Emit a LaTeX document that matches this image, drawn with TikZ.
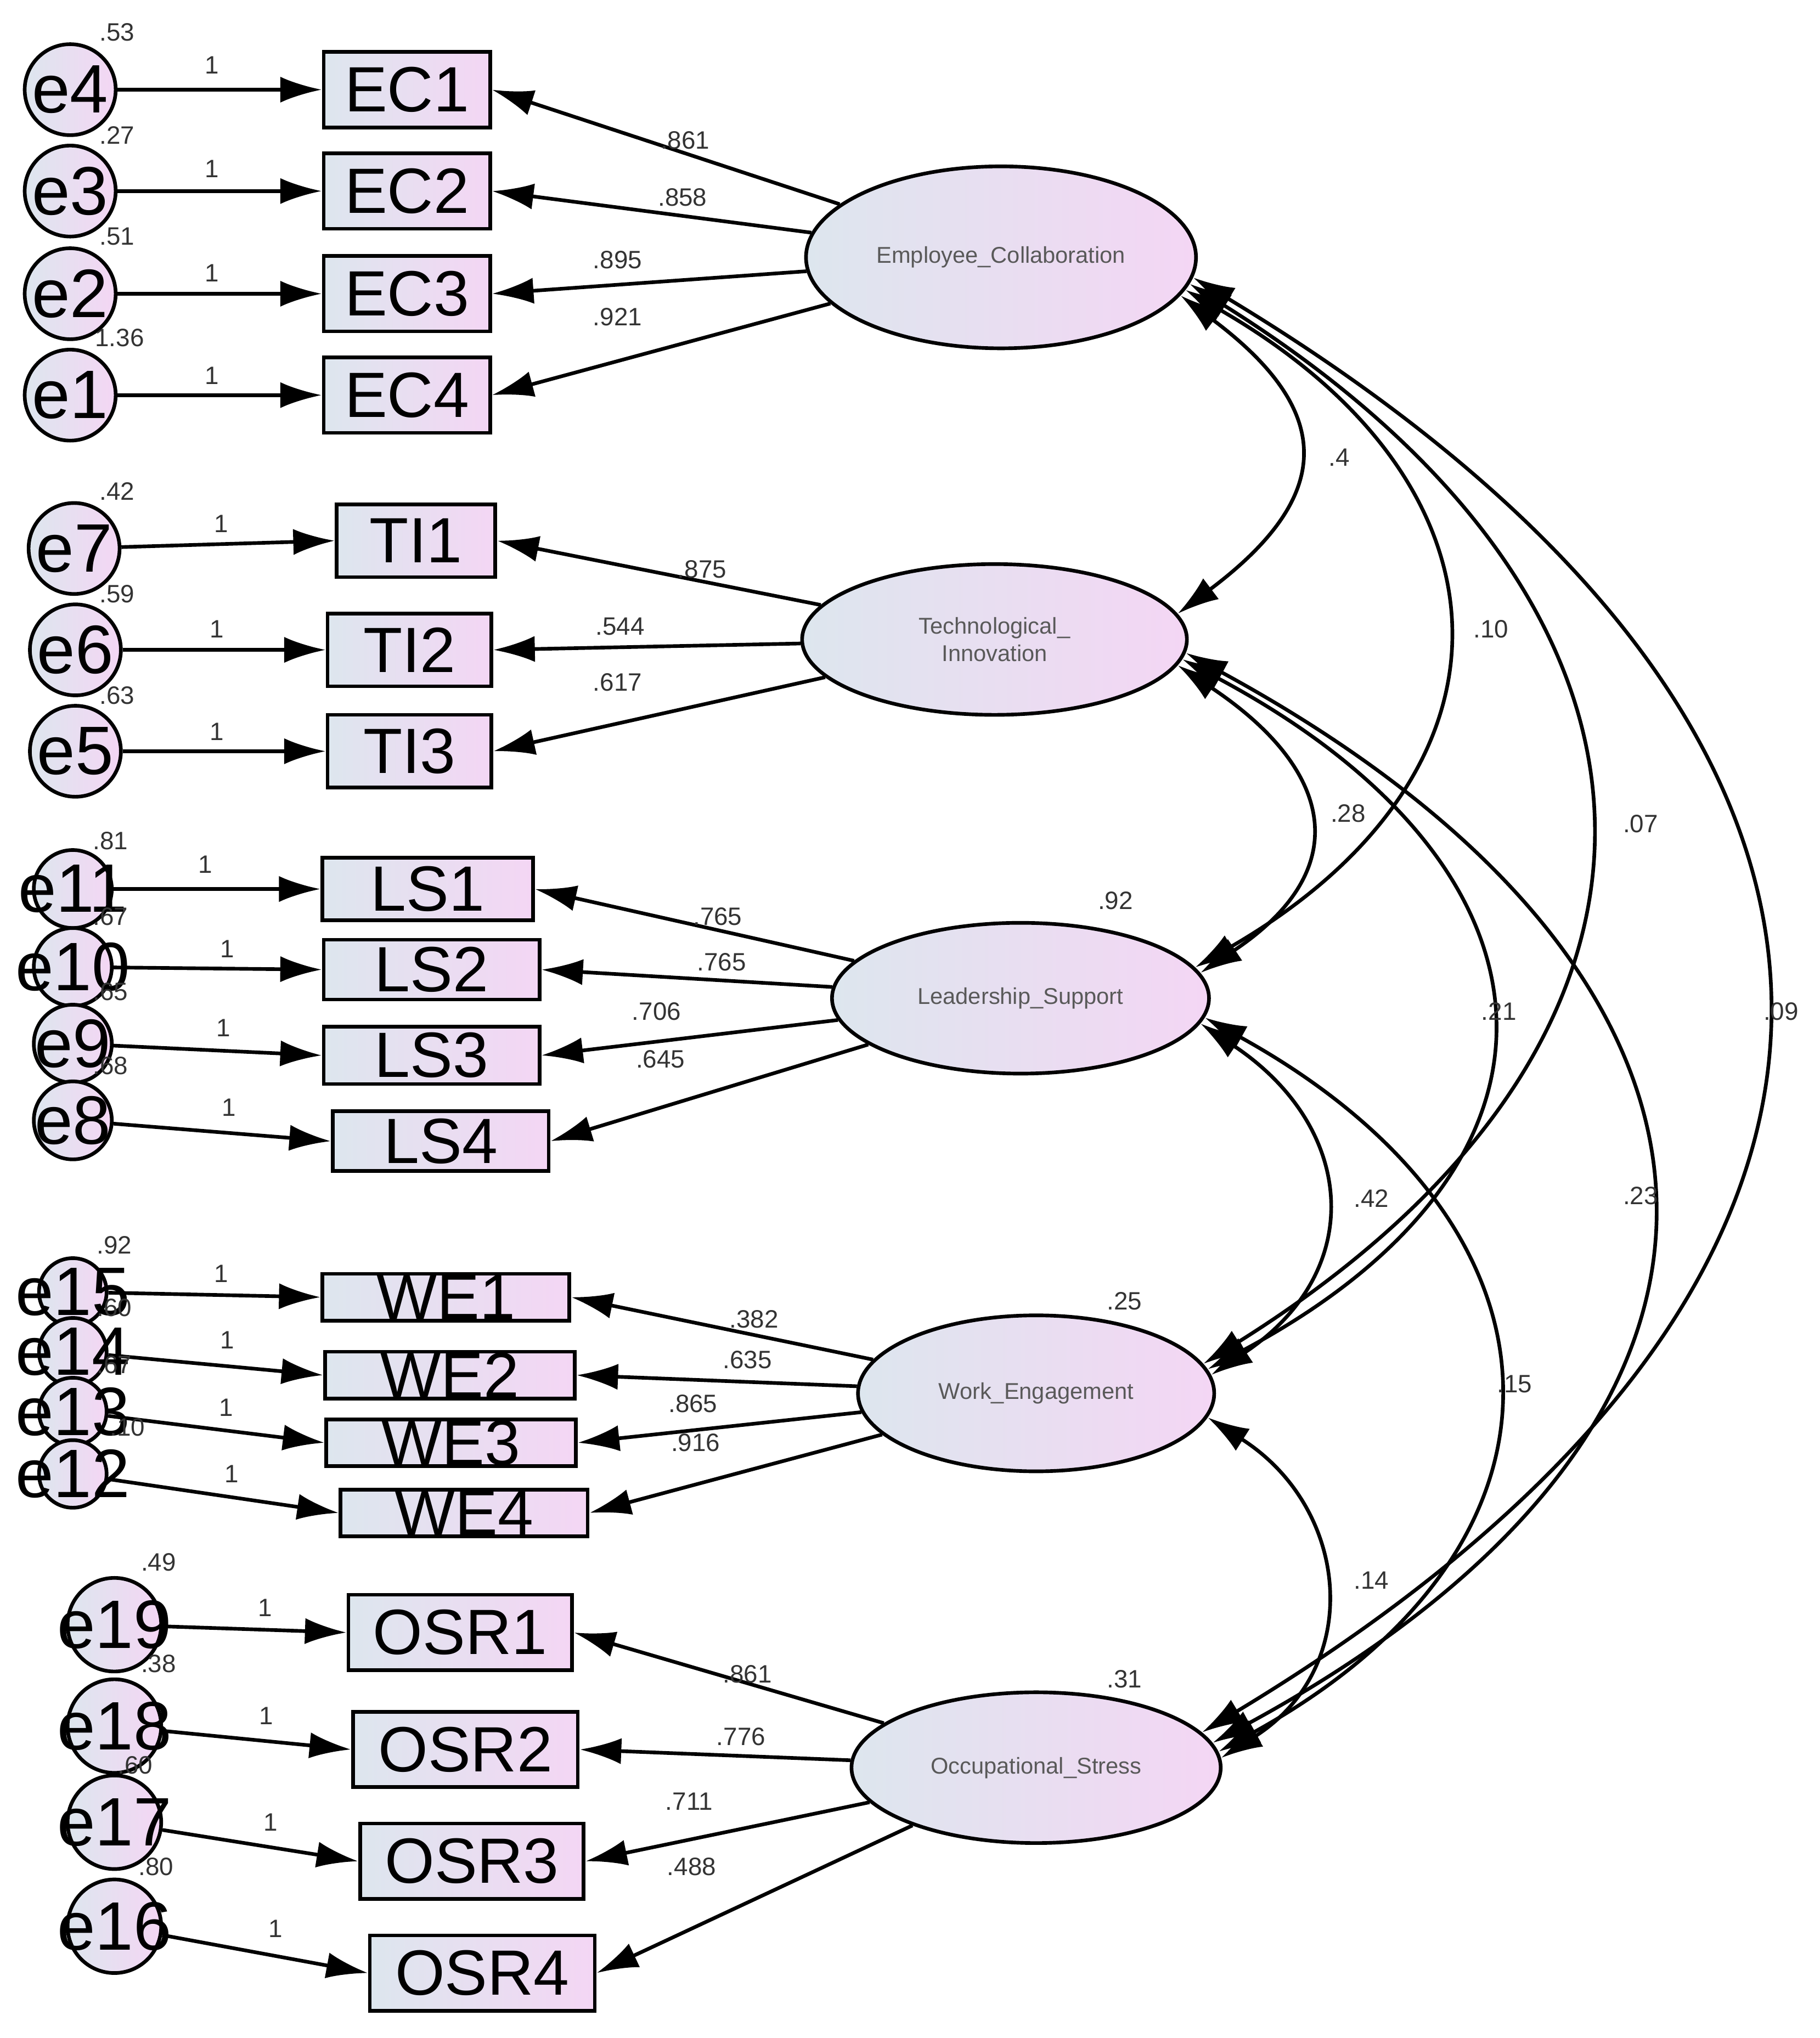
\documentclass[tikz,border=0pt]{standalone}
\usepackage{fontspec}
\setmainfont{Liberation Sans}
\usetikzlibrary{shapes.geometric,arrows.meta}
\definecolor{lb}{HTML}{DDE6EE}
\definecolor{pk}{HTML}{F4D6F4}
\begin{document}
\begin{tikzpicture}[x=1cm,y=-1cm,
  lat/.style={ellipse, draw, thick, inner sep=0pt, left color=lb, right color=pk,
    font=\fontsize{5}{6}\selectfont, text=gray!70!black, align=center},
  obs/.style={rectangle, draw, thick, inner sep=0pt, left color=lb, right color=pk,
    font=\fontsize{14}{14}\selectfont},
  err/.style={circle, draw, thick, inner sep=0pt, minimum size=#1, left color=lb, right color=pk},
  et/.style={font=\fontsize{15}{15}\selectfont},
  num/.style={font=\fontsize{5.5}{6}\selectfont, text=black!80},
  arr/.style={thick, -{Latex[length=3.2mm,width=2mm]}},
  cov/.style={thick, {Latex[length=3.2mm,width=2mm]}-{Latex[length=3.2mm,width=2mm]}}]
\useasboundingbox (0,0) rectangle (14,15.68);

% latent variables
\node[lat, minimum width=3.0cm, minimum height=1.4cm] (EC) at (7.70,1.98) {Employee\_Collaboration};
\node[lat, minimum width=2.96cm, minimum height=1.16cm] (TI) at (7.65,4.92) {Technological\_\\Innovation};
\node[lat, minimum width=2.9cm, minimum height=1.16cm] (LS) at (7.85,7.68) {Leadership\_Support};
\node[lat, minimum width=2.74cm, minimum height=1.2cm] (WE) at (7.97,10.72) {Work\_Engagement};
\node[lat, minimum width=2.84cm, minimum height=1.16cm] (OS) at (7.97,13.60) {Occupational\_Stress};

% observed variables
\foreach \n/\x/\y/\w/\h in {EC1/3.13/0.69/1.28/0.58, EC2/3.13/1.47/1.28/0.58, EC3/3.13/2.26/1.28/0.58, EC4/3.13/3.04/1.28/0.58,
  TI1/3.20/4.16/1.22/0.56, TI2/3.15/5.00/1.26/0.56, TI3/3.15/5.78/1.26/0.56,
  LS1/3.29/6.84/1.62/0.48, LS2/3.32/7.46/1.66/0.46, LS3/3.32/8.12/1.66/0.44, LS4/3.39/8.78/1.66/0.46,
  WE1/3.43/9.98/1.90/0.36, WE2/3.46/10.58/1.92/0.36, WE3/3.47/11.10/1.92/0.36, WE4/3.57/11.64/1.90/0.36,
  OSR1/3.54/12.56/1.72/0.58, OSR2/3.58/13.46/1.73/0.58, OSR3/3.63/14.32/1.72/0.58, OSR4/3.71/15.18/1.73/0.58}
  \node[obs, minimum width=\w cm, minimum height=\h cm] (\n) at (\x,\y) {\n};

% error terms
\foreach \n/\b/\x/\y/\s in {e4/EC1/0.54/0.69/0.7, e3/EC2/0.54/1.47/0.7, e2/EC3/0.54/2.26/0.7, e1/EC4/0.54/3.04/0.7,
  e7/TI1/0.57/4.22/0.7, e6/TI2/0.58/5.00/0.7, e5/TI3/0.58/5.78/0.7,
  e11/LS1/0.56/6.84/0.6, e10/LS2/0.56/7.44/0.6, e9/LS3/0.56/8.03/0.6, e8/LS4/0.56/8.62/0.6,
  e15/WE1/0.56/9.94/0.52, e14/WE2/0.56/10.40/0.52, e13/WE3/0.56/10.86/0.52, e12/WE4/0.56/11.34/0.52,
  e19/OSR1/0.88/12.50/0.72, e18/OSR2/0.88/13.28/0.72, e17/OSR3/0.88/14.02/0.72, e16/OSR4/0.88/14.82/0.72}
{
  \node[err=\s cm, label={[et]center:\n}] (\n) at (\x,\y) {};
  \draw[arr] (\n) -- (\b.west);
}

% variances of errors
\foreach \t/\x/\y in {.53/0.90/0.25, .27/0.90/1.04, .51/0.90/1.82, 1.36/0.92/2.60,
  .42/0.90/3.78, .59/0.90/4.57, .63/0.90/5.35,
  .81/0.85/6.47, .67/0.85/7.05, .65/0.85/7.63, .68/0.85/8.20,
  .92/0.88/9.58, .60/0.88/10.06, .67/0.88/10.50, .10/0.98/10.98,
  .49/1.22/12.02, .38/1.22/12.80, .60/1.04/13.58, .80/1.20/14.36}
  \node[num] at (\x,\y) {\t};

% fixed paths
\foreach \x/\y in {1.63/0.50, 1.63/1.30, 1.63/2.10, 1.63/2.89, 1.70/4.03, 1.67/4.84, 1.67/5.63,
  1.58/6.65, 1.75/7.30, 1.72/7.91, 1.76/8.52, 1.70/9.80, 1.75/10.31, 1.74/10.83, 1.78/11.34,
  2.04/12.37, 2.05/13.20, 2.08/14.02, 2.12/14.84}
  \node[num] at (\x,\y) {1};

% loadings
\foreach \l/\b in {EC/EC1, EC/EC2, EC/EC3, EC/EC4, TI/TI1, TI/TI2, TI/TI3,
  LS/LS1, LS/LS2, LS/LS3, LS/LS4, WE/WE1, WE/WE2, WE/WE3, WE/WE4,
  OS/OSR1, OS/OSR2, OS/OSR3, OS/OSR4}
  \draw[arr] (\l) -- (\b.east);

\foreach \t/\x/\y in {.861/5.27/1.08, .858/5.25/1.52, .895/4.75/2.00, .921/4.75/2.44,
  .875/5.40/4.38, .544/4.77/4.82, .617/4.75/5.25,
  .765/5.52/7.05, .765/5.55/7.40, .706/5.05/7.78, .645/5.08/8.15,
  .382/5.80/10.15, .635/5.75/10.46, .865/5.33/10.80, .916/5.35/11.10,
  .861/5.75/12.88, .776/5.70/13.36, .711/5.30/13.86, .488/5.32/14.36}
  \node[num] at (\x,\y) {\t};

% squared multiple correlations
\node[num] at (8.58,6.93) {.92};
\node[num] at (8.65,10.01) {.25};
\node[num] at (8.65,12.92) {.31};

% covariances
\draw[cov] (EC.-12) .. controls +(1.2,0.9) and +(1.2,-0.9) .. (TI.8);
\draw[cov] (EC.-10) .. controls +(2.6,1.5) and +(2.6,-1.5) .. (LS.10);
\draw[cov] (EC.-8) .. controls +(4.0,2.5) and +(4.0,-2.5) .. (WE.10);
\draw[cov] (EC.-6) .. controls +(5.8,3.5) and +(5.8,-3.5) .. (OS.12);
\draw[cov] (TI.-8) .. controls +(1.2,0.8) and +(1.2,-0.8) .. (LS.8);
\draw[cov] (TI.-6) .. controls +(3.0,1.6) and +(3.0,-1.6) .. (WE.8);
\draw[cov] (TI.-4) .. controls +(4.6,2.5) and +(4.6,-2.5) .. (OS.8);
\draw[cov] (LS.-8) .. controls +(1.2,0.8) and +(1.2,-0.8) .. (WE.6);
\draw[cov] (LS.-6) .. controls +(2.9,1.6) and +(2.9,-1.6) .. (OS.5);
\draw[cov] (WE.-8) .. controls +(1.1,0.7) and +(1.1,-0.7) .. (OS.3);

\foreach \t/\x/\y in {.4/10.30/3.52, .10/11.47/4.84, .07/12.62/6.34, .09/13.70/7.78,
  .28/10.37/6.26, .21/11.53/7.78, .23/12.62/9.20, .42/10.55/9.22, .15/11.65/10.65, .14/10.55/12.16}
  \node[num] at (\x,\y) {\t};
\end{tikzpicture}
\end{document}
